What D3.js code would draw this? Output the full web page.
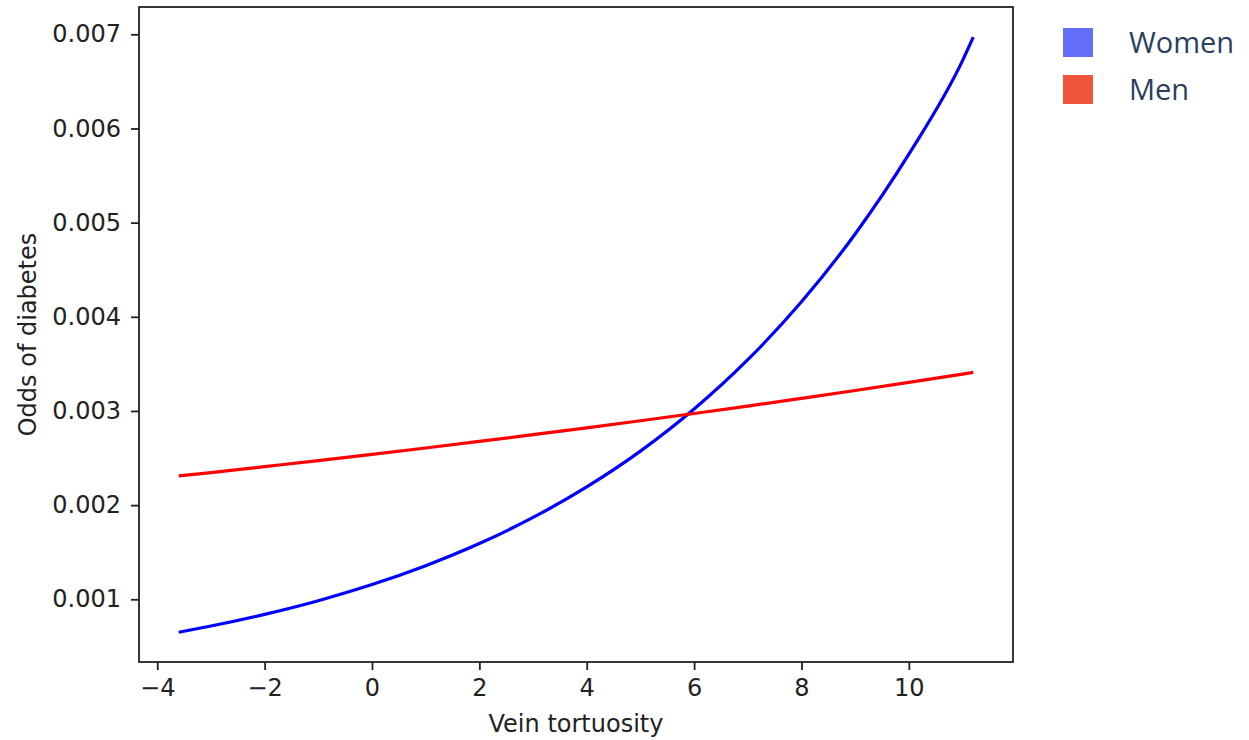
<!DOCTYPE html>
<html>
<head>
<meta charset="utf-8">
<script src="https://cdn.jsdelivr.net/npm/d3@7"></script>
<style>
  body { margin: 0; background: #fff; }
  .tick text { font-family: "DejaVu Sans", sans-serif; font-size: 24px; fill: #222; }
  .axis-label { font-family: "DejaVu Sans", sans-serif; font-size: 24px; fill: #222; }
  .legend text { font-family: "Open Sans", sans-serif; font-size: 29px; fill: #2a3f5f; }
</style>
</head>
<body>
<script>
// values
const xVals     = [-3.6, -3, -2, -1, 0, 1, 2, 3, 4, 5, 6, 7, 8, 9, 10, 11, 11.2];
const womenOdds = [0.00065, 0.000716, 0.00084, 0.000985, 0.001156, 0.001357, 0.001592, 0.001869,
                   0.002193, 0.002573, 0.00302, 0.003544, 0.004159, 0.00488, 0.005727, 0.006721, 0.00697];
const menOdds   = [0.00231, 0.002345, 0.002409, 0.002473, 0.002539, 0.002607, 0.002677, 0.002748,
                   0.002821, 0.002896, 0.002973, 0.003052, 0.003134, 0.003217, 0.003303, 0.003391, 0.003409];
const xTicks = [-4, -2, 0, 2, 4, 6, 8, 10];
const yTicks = [0.001, 0.002, 0.003, 0.004, 0.005, 0.006, 0.007];
const seriesNames  = ["Women", "Men"];
const lineColors   = ["#0000ff", "#ff0000"];
const legendColors = ["#636efa", "#ef553b"];

const width = 1249, height = 740;
const plotLeft = 139, plotRight = 1013, plotTop = 7, plotBottom = 662;

const svg = d3.select("body").append("svg")
  .attr("width", width)
  .attr("height", height);

const scaleX = d3.scaleLinear().domain([-4.34, 11.94]).range([plotLeft, plotRight]);
const scaleY = d3.scaleLinear().domain([0.000334, 0.00729]).range([plotBottom, plotTop]);

// lines
const seriesData = [womenOdds, menOdds].map(vals => vals.map((v, i) => ({ x: xVals[i], y: v })));
const line = d3.line()
  .x(d => scaleX(d.x))
  .y(d => scaleY(d.y))
  .curve(d3.curveMonotoneX);

svg.selectAll("path.series")
  .data(seriesData)
  .enter().append("path")
  .attr("class", "series")
  .attr("d", line)
  .attr("fill", "none")
  .attr("stroke", (d, i) => lineColors[i])
  .attr("stroke-width", 3.2);

// axes
const xAxis = svg.append("g")
  .attr("transform", `translate(0,${plotBottom})`)
  .call(d3.axisBottom(scaleX).tickValues(xTicks).tickSize(8).tickPadding(9)
    .tickFormat(d => d < 0 ? "\u2212" + Math.abs(d) : d));

const yAxis = svg.append("g")
  .attr("transform", `translate(${plotLeft},0)`)
  .call(d3.axisLeft(scaleY).tickValues(yTicks).tickSize(8).tickPadding(10)
    .tickFormat(d3.format(".3f")));

[xAxis, yAxis].forEach(g => {
  g.select(".domain").remove();
  g.selectAll(".tick line").attr("stroke", "#222").attr("stroke-width", 1.8);
});

// frame
svg.append("rect")
  .attr("x", plotLeft)
  .attr("y", plotTop)
  .attr("width", plotRight - plotLeft)
  .attr("height", plotBottom - plotTop)
  .attr("fill", "none")
  .attr("stroke", "#222")
  .attr("stroke-width", 1.8);

svg.append("text")
  .attr("class", "axis-label")
  .attr("x", (plotLeft + plotRight) / 2)
  .attr("y", 732)
  .attr("text-anchor", "middle")
  .text("Vein tortuosity");

svg.append("text")
  .attr("class", "axis-label")
  .attr("transform", `translate(36,${(plotTop + plotBottom) / 2}) rotate(-90)`)
  .attr("text-anchor", "middle")
  .text("Odds of diabetes");

// legend
const legend = svg.append("g")
  .attr("class", "legend")
  .attr("transform", "translate(1063,28)");

const items = legend.selectAll("g")
  .data(seriesNames)
  .enter().append("g")
  .attr("transform", (d, i) => `translate(0,${i * 47})`);

items.append("rect")
  .attr("width", 30)
  .attr("height", 29)
  .attr("fill", (d, i) => legendColors[i]);

items.append("text")
  .attr("x", 66)
  .attr("y", 25)
  .text(d => d);
</script>
</body>
</html>
